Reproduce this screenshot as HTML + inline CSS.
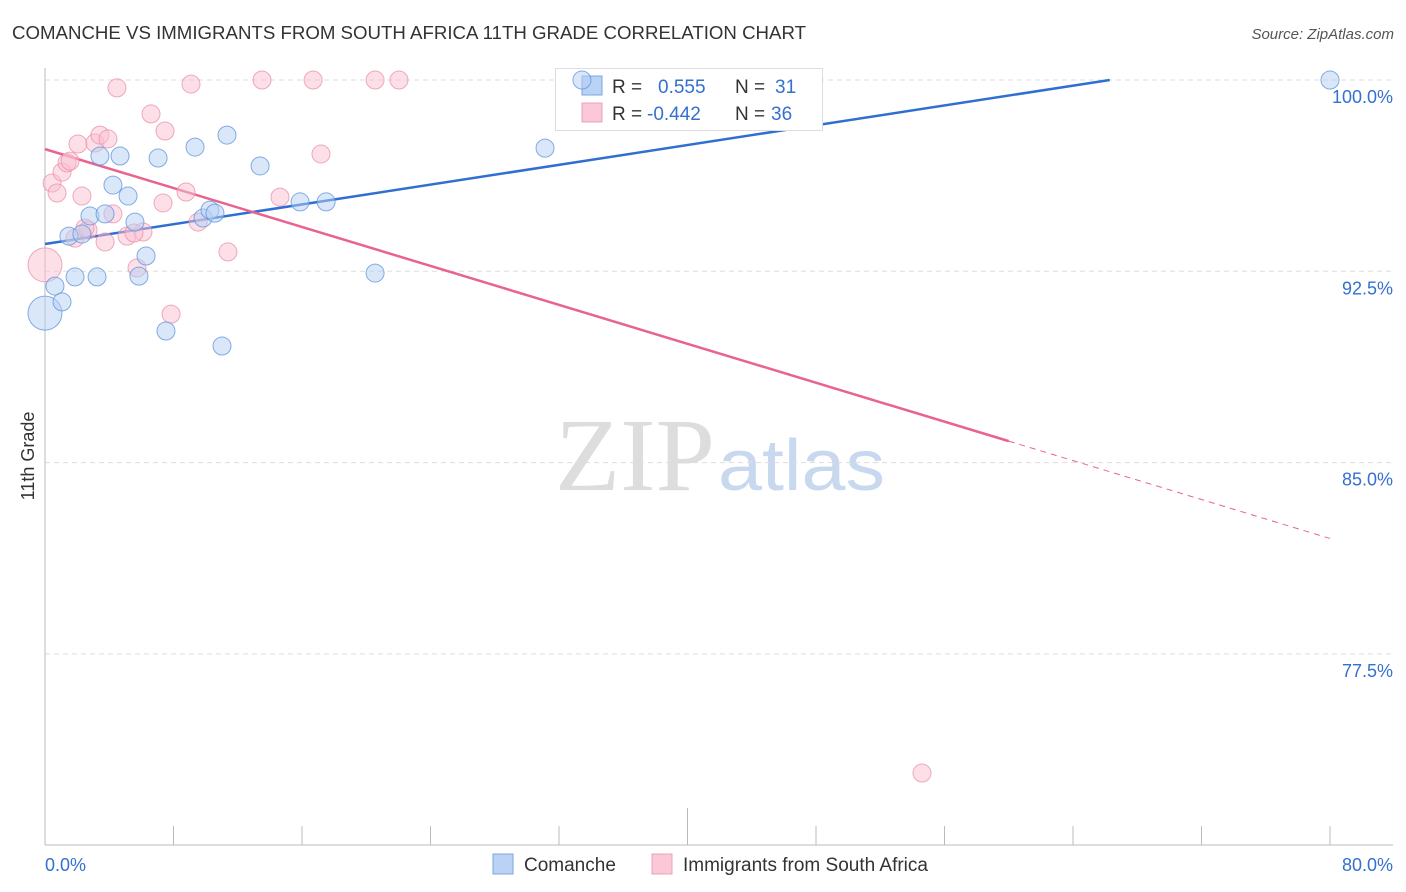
<!DOCTYPE html>
<html><head><meta charset="utf-8">
<style>
body{margin:0;background:#fff;font-family:"Liberation Sans",sans-serif;}
#wrap{position:relative;width:1406px;height:892px;overflow:hidden;}
svg{position:absolute;left:0;top:0;}
</style></head>
<body><div id="wrap">
<svg id="chart" width="1406" height="892">
<text x="12" y="39" font-size="18" fill="#333" textLength="794" lengthAdjust="spacingAndGlyphs">COMANCHE VS IMMIGRANTS FROM SOUTH AFRICA 11TH GRADE CORRELATION CHART</text>
<text x="1394" y="39" font-size="15" fill="#555" font-style="italic" text-anchor="end">Source: ZipAtlas.com</text>
<text x="555" y="490" font-size="104" fill="#ddd" font-family="Liberation Serif,serif" textLength="160" lengthAdjust="spacingAndGlyphs">ZIP</text>
<text x="718" y="490" font-size="72" fill="#c8d8ef" textLength="167" lengthAdjust="spacingAndGlyphs">atlas</text>
<text transform="translate(34,456) rotate(-90)" font-size="18" fill="#333" text-anchor="middle">11th Grade</text>
<g id="grid"></g><g id="ticks"></g><g id="lines"></g>
<g>
<rect x="555.5" y="68.5" width="267" height="62" fill="#fff" stroke="#ddd"/>
<rect x="582" y="76" width="20" height="19" fill="#b9d2f5" stroke="#7ea6e0"/>
<rect x="582" y="103" width="20" height="19" fill="#fbc8d7" stroke="#eea0b8"/>
<text x="612" y="93" font-size="19" fill="#333">R = </text><text x="658" y="93" font-size="19" fill="#3470d0">0.555</text>
<text x="735" y="93" font-size="19" fill="#333">N = </text><text x="775" y="93" font-size="19" fill="#3470d0">31</text>
<text x="612" y="120" font-size="19" fill="#333">R = </text><text x="647" y="120" font-size="19" fill="#3470d0">-0.442</text>
<text x="735" y="120" font-size="19" fill="#333">N = </text><text x="771" y="120" font-size="19" fill="#3470d0">36</text>
</g>
<g id="pts"></g>
<g>
<rect x="493" y="854" width="20" height="20" fill="#b9d2f5" stroke="#7ea6e0"/>
<text x="524" y="871" font-size="19" fill="#333">Comanche</text>
<rect x="652" y="854" width="20" height="20" fill="#fbc8d7" stroke="#eea0b8"/>
<text x="683" y="871" font-size="19" fill="#333">Immigrants from South Africa</text>
</g>
</svg>
<script>
const blueX=[0,0.62,1.06,1.49,1.87,2.30,2.80,3.24,3.42,3.74,4.23,4.67,5.17,5.60,5.85,6.29,7.04,7.53,9.34,9.84,10.27,10.58,11.33,11.02,13.39,15.88,17.50,20.55,31.13,33.43,80];
const blueY=[90.86,91.92,91.30,93.88,92.28,93.96,94.67,92.28,97.02,94.75,95.88,97.02,95.45,94.43,92.31,93.10,96.94,90.16,97.37,94.59,94.90,94.78,97.84,89.57,96.63,95.22,95.22,92.43,97.33,100,100];
const pinkX=[0,0.44,0.75,1.06,1.37,1.56,1.87,2.05,2.30,2.68,3.11,3.42,3.74,3.92,4.23,4.48,5.11,5.73,6.10,6.60,7.35,7.47,7.85,8.78,9.09,9.53,11.39,13.51,14.63,16.69,17.18,20.55,22.04,54.60,2.49,5.54];
const pinkY=[92.75,95.96,95.57,96.39,96.75,96.82,93.80,97.49,95.45,94.12,97.53,97.84,93.65,97.69,94.75,99.69,93.88,92.63,94.04,98.67,95.18,98.00,90.82,95.61,99.84,94.43,93.26,100,95.41,100,97.10,100,100,72.83,94.20,94.00];
const blueTrend=[93.57,0.0970];
const pinkTrend=[97.29,-0.1908];
const yTicks=[100,92.5,85,77.5];
const xTickLabels=["0.0%","80.0%"];
const NS="http://www.w3.org/2000/svg";
const sx=v=>45+v*(1285/80);
const sy=v=>80+(100-v)*(191.3/7.5);
function mk(t,a,p){const e=document.createElementNS(NS,t);for(const k in a)e.setAttribute(k,a[k]);p.appendChild(e);return e;}
const grid=document.getElementById('grid'),ticks=document.getElementById('ticks'),pts=document.getElementById('pts'),lines=document.getElementById('lines');
yTicks.forEach(v=>{
 const l=mk('line',{x1:45,x2:1393,y1:sy(v),y2:sy(v),stroke:'#ddd','stroke-dasharray':'5,4'},grid);
 
 
 const t=mk('text',{x:1393,y:sy(v)+23,'font-size':18,fill:'#3470d0','text-anchor':'end'},ticks);
 t.textContent=v.toFixed(1)+'%';
 
 
});
const ax=mk('line',{x1:45,x2:1393,y1:845,y2:845,stroke:'#bbb'},ticks);


const ay=mk('line',{x1:45,x2:45,y1:68,y2:845,stroke:'#bbb'},ticks);


for(let i=0;i<=10;i++){const x=sx(i*8);const tk=mk('line',{x1:x,x2:x,y1:i==5?808:826,y2:845,stroke:'#bbb'},ticks);
 
 }
[[0,'start'],[80,'end']].forEach((d,i)=>{const t=mk('text',{x:i?1393:45,y:871,'font-size':18,fill:'#3470d0','text-anchor':d[1]},ticks);t.textContent=xTickLabels[i];
 
 });
function draw(X,Y,fill,stroke,name){X.forEach((x,i)=>{const big=(x===0);
 const c=mk('circle',{cx:sx(x),cy:sy(Y[i]),r:big?17:9,fill:fill,'fill-opacity':0.5,stroke:stroke,'stroke-opacity':0.75,'stroke-width':1},pts);
 
 });}
draw(pinkX,pinkY,'#f9bfd0','#ea8fab','immigrants-point');
draw(blueX,blueY,'#b5cff3','#5b93dc','comanche-point');
const bEnd=(100-blueTrend[0])/blueTrend[1];
const bl=mk('line',{x1:sx(0),y1:sy(blueTrend[0]),x2:sx(bEnd),y2:sy(100),stroke:'#2f6fd2','stroke-width':2.5},lines);


const pl=mk('line',{x1:sx(0),y1:sy(pinkTrend[0]),x2:sx(60),y2:sy(pinkTrend[0]+60*pinkTrend[1]),stroke:'#e8648e','stroke-width':2.5},lines);


const pd=mk('line',{x1:sx(60),y1:sy(pinkTrend[0]+60*pinkTrend[1]),x2:sx(80),y2:sy(pinkTrend[0]+80*pinkTrend[1]),stroke:'#e8648e','stroke-width':1,'stroke-dasharray':'6,5'},lines);


</script>
</div></body></html>
